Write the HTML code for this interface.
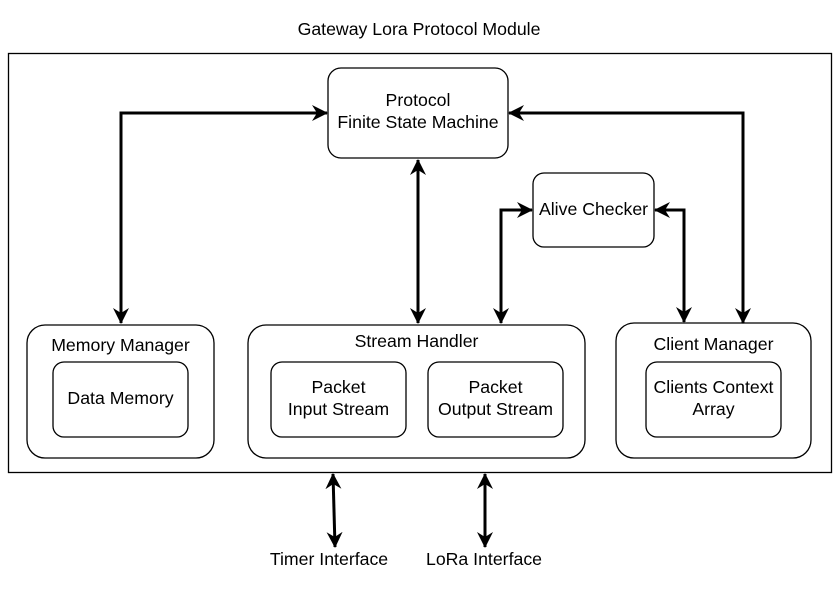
<!DOCTYPE html>
<html><head><meta charset="utf-8"><style>
html,body{margin:0;padding:0;background:#fff;}
svg{display:block;}
text{font-family:"Liberation Sans",Arial,sans-serif;font-size:17.7px;fill:#000;}
</style></head><body>
<svg width="839" height="593" viewBox="0 0 839 593" xmlns="http://www.w3.org/2000/svg">
<defs>
<marker id="a" viewBox="0 0 16 16" refX="15" refY="8" markerWidth="16" markerHeight="16" markerUnits="userSpaceOnUse" orient="auto-start-reverse">
<path d="M0,0 L16,8 L0,16 L5,8 Z" fill="#000"/>
</marker>
</defs>
<text x="419" y="35" text-anchor="middle">Gateway Lora Protocol Module</text>
<rect x="8.5" y="53.5" width="823" height="419" fill="#fff" stroke="#000" stroke-width="1.3"/>

<rect x="328" y="68" width="180" height="90" rx="13" fill="#fff" stroke="#000" stroke-width="1.3"/>
<text x="418" y="106" text-anchor="middle">Protocol</text>
<text x="418" y="128" text-anchor="middle">Finite State Machine</text>

<rect x="533" y="173" width="121" height="74" rx="11" fill="#fff" stroke="#000" stroke-width="1.3"/>
<text x="593.5" y="215" text-anchor="middle">Alive Checker</text>

<rect x="27" y="325" width="187" height="133" rx="18" fill="#fff" stroke="#000" stroke-width="1.3"/>
<text x="120.5" y="351" text-anchor="middle">Memory Manager</text>
<rect x="53" y="362" width="135" height="75" rx="11" fill="#fff" stroke="#000" stroke-width="1.3"/>
<text x="120.5" y="404" text-anchor="middle">Data Memory</text>

<rect x="248" y="325" width="337" height="133" rx="18" fill="#fff" stroke="#000" stroke-width="1.3"/>
<text x="416.5" y="347" text-anchor="middle">Stream Handler</text>
<rect x="271" y="362" width="135" height="75" rx="11" fill="#fff" stroke="#000" stroke-width="1.3"/>
<text x="338.5" y="393" text-anchor="middle">Packet</text>
<text x="338.5" y="415" text-anchor="middle">Input Stream</text>
<rect x="428" y="362" width="135" height="75" rx="11" fill="#fff" stroke="#000" stroke-width="1.3"/>
<text x="495.5" y="393" text-anchor="middle">Packet</text>
<text x="495.5" y="415" text-anchor="middle">Output Stream</text>

<rect x="616" y="323" width="195" height="135" rx="18" fill="#fff" stroke="#000" stroke-width="1.3"/>
<text x="713.5" y="350" text-anchor="middle">Client Manager</text>
<rect x="646" y="362" width="135" height="75" rx="11" fill="#fff" stroke="#000" stroke-width="1.3"/>
<text x="713.5" y="393" text-anchor="middle">Clients Context</text>
<text x="713.5" y="415" text-anchor="middle">Array</text>

<g fill="none" stroke="#000" stroke-width="3" marker-start="url(#a)" marker-end="url(#a)">
<path d="M327,113 H121 V323"/>
<path d="M418,160 V323"/>
<path d="M509,113 H743 V323"/>
<path d="M532,210 H501 V323"/>
<path d="M655,210 H684 V322"/>
<path d="M333,474 L335,547"/>
<path d="M485,474 V547"/>
</g>

<text x="329" y="565" text-anchor="middle">Timer Interface</text>
<text x="484" y="565" text-anchor="middle">LoRa Interface</text>
</svg>
</body></html>
